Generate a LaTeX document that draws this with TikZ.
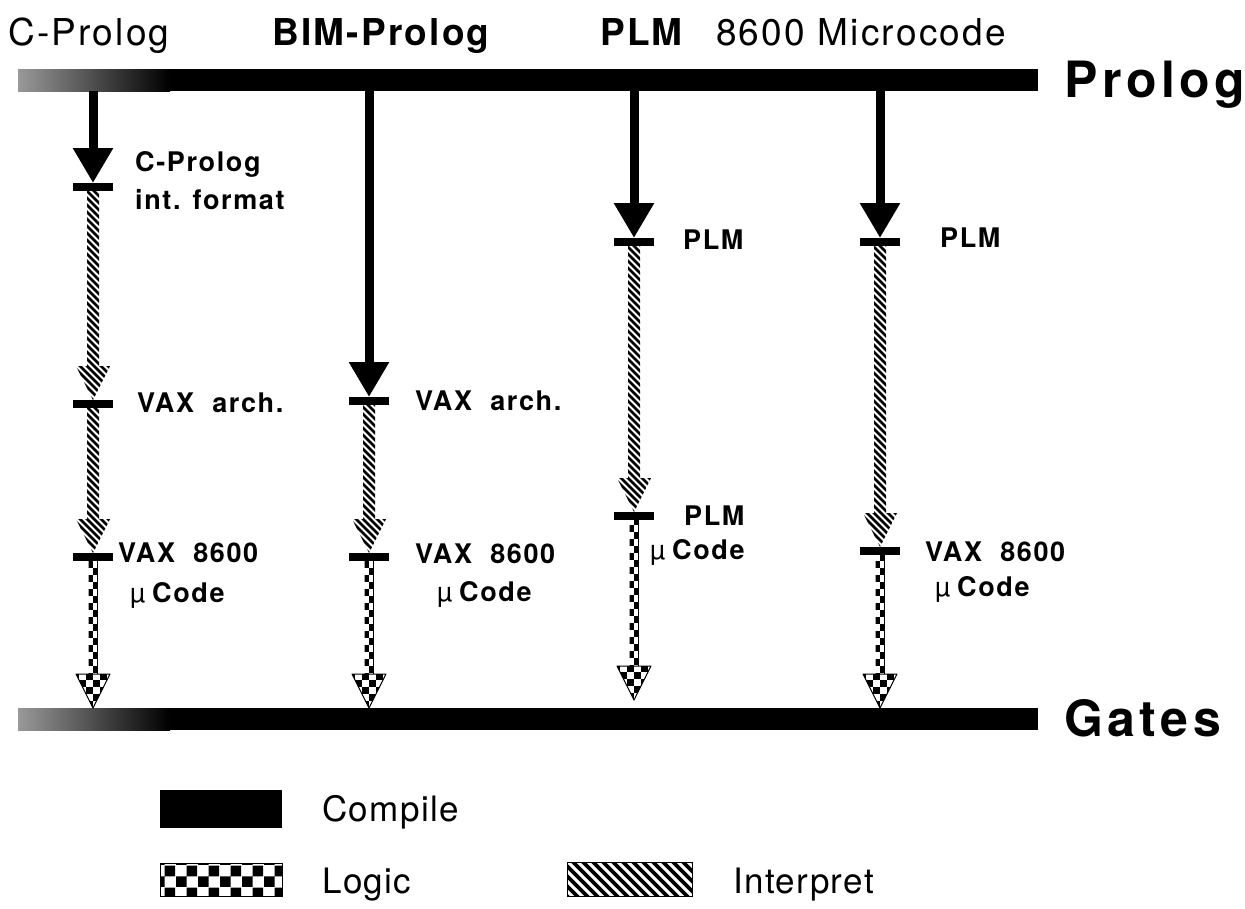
\documentclass[tikz,border=0pt]{standalone}
\usepackage{fontspec}
\setmainfont{TeX Gyre Heros}
\newfontfamily\lbl[LetterSpace=6]{TeX Gyre Heros}
\newfontfamily\endfont[LetterSpace=9]{TeX Gyre Heros}
\newfontfamily\lgd[LetterSpace=4]{TeX Gyre Heros}
\usetikzlibrary{arrows.meta,patterns,calc}

\pgfdeclarepatternformonly{bigcheck}{\pgfpointorigin}{\pgfqpoint{22pt}{22pt}}{\pgfqpoint{22pt}{22pt}}{%
  \pgfpathrectangle{\pgfpointorigin}{\pgfqpoint{11pt}{11pt}}%
  \pgfpathrectangle{\pgfqpoint{11pt}{11pt}}{\pgfqpoint{11pt}{11pt}}%
  \pgfusepath{fill}}

\tikzset{
  barbox/.style={fill=black, minimum width=1020pt, minimum height=22pt, inner sep=0pt, outer sep=0pt},
  tickbox/.style={fill=black, minimum width=40pt, minimum height=8pt, inner sep=0pt, outer sep=0pt},
  compileline/.style={line width=9pt, -{Triangle[width=38pt,length=35pt]}},
  hatchstroke/.style={line width=2.8pt},
  toplbl/.style={font=\lbl\fontsize{37}{40}\selectfont, anchor=base west, inner sep=0pt},
  topbold/.style={toplbl, font=\lbl\bfseries\fontsize{37}{40}\selectfont},
  endlbl/.style={font=\endfont\bfseries\fontsize{50}{54}\selectfont, anchor=base west, inner sep=0pt},
  midlbl/.style={font=\lbl\bfseries\fontsize{27}{30}\selectfont, anchor=base west, inner sep=0pt},
  lgdlbl/.style={font=\lgd\fontsize{35}{38}\selectfont, anchor=base west, inner sep=0pt},
}

% hatched (interpret) connector from tick #1 to tick #2
\newcommand\interparrow[2]{%
  \begin{scope}
    \clip ($(#1.south)+(-6,0)$) -- ($(#2.north)+(-6,-34)$) -- ($(#2.north)+(-17,-34)$)
      -- (#2.north) -- ($(#2.north)+(17,-34)$) -- ($(#2.north)+(6,-34)$) -- ($(#1.south)+(6,0)$) -- cycle;
    \foreach \k in {0,...,50} \draw[hatchstroke] ($(#2.north)+(-25,{-4-7*\k})$) -- ++(50,50);
  \end{scope}}
% checkered (logic) connector from tick #1 to tip coordinate #2
\newcommand\logicarrow[2]{%
  \begin{scope}
    \clip ($(#1.south)+(-4.5,0)$) -- ($(#2)+(-4.5,-34)$) -- ($(#2)+(-17,-34)$)
      -- (#2) -- ($(#2)+(17,-34)$) -- ($(#2)+(4.5,-34)$) -- ($(#1.south)+(4.5,0)$) -- cycle;
    \foreach \k in {0,2,...,24} \foreach \i in {-3,-1,1} \fill ($(#2)+({\i*7},{-7*\k})$) rectangle ++(7,-7);
    \foreach \k in {1,3,...,25} \foreach \i in {-2,0,2} \fill ($(#2)+({\i*7},{-7*\k})$) rectangle ++(7,-7);
  \end{scope}
  \draw[line width=0.8pt] ($(#1.south)+(4.5,0)$) -- ($(#2)+(4.5,-34)$);
  \draw[line width=1pt, line join=round] ($(#2)+(-17,-34)$) -- (#2) -- ($(#2)+(17,-34)$) -- cycle;}
\newcommand\mucode{{\normalfont\fontsize{27}{30}\selectfont\textmu}\hspace{7pt}Code}

\begin{document}
\begin{tikzpicture}[x=1pt,y=-1pt]
\useasboundingbox (0,0) rectangle (1245,908);

% bars
\node[barbox] (topbar) at (528,80) {};
\node[barbox] (botbar) at (528,719) {};
\shade[left color=black!40, right color=black] (18,69) rectangle (170,91);
\shade[left color=black!40, right color=black] (18,708) rectangle (170,730);
\node[endlbl] (prolog) at (1064,97) {Prolog};
\node[endlbl] (gates) at (1064,736) {Gates};

% top labels
\node[toplbl] (lc) at (8,45) {C-Prolog};
\node[topbold] (lb) at (272,45) {BIM-Prolog};
\node[topbold] (lp) at (600,45) {PLM};
\node[toplbl] (lm) at (716,45) {8600 Microcode};

% ticks
\node[tickbox] (a1) at (93,187) {};
\node[tickbox] (a2) at (93,404) {};
\node[tickbox] (a3) at (93,557) {};
\node[tickbox] (b1) at (369,401) {};
\node[tickbox] (b2) at (369,557) {};
\node[tickbox] (c1) at (634,242) {};
\node[tickbox] (c2) at (634,516) {};
\node[tickbox] (d1) at (880,242) {};
\node[tickbox] (d2) at (880,551) {};

% tips on the Gates bar
\coordinate (ae) at ($(a3.south |- botbar.north)$);
\coordinate (be) at ($(b2.south |- botbar.north)$);
\coordinate (ce) at ($(c2.south |- botbar.north)+(0,-8)$);
\coordinate (de) at ($(d2.south |- botbar.north)$);

% compile arrows
\draw[compileline] (a1.north |- topbar.south) -- (a1.north);
\draw[compileline] (b1.north |- topbar.south) -- (b1.north);
\draw[compileline] (c1.north |- topbar.south) -- (c1.north);
\draw[compileline] (d1.north |- topbar.south) -- (d1.north);

% interpret arrows
\interparrow{a1}{a2}
\interparrow{a2}{a3}
\interparrow{b1}{b2}
\interparrow{c1}{c2}
\interparrow{d1}{d2}

% logic arrows
\logicarrow{a3}{ae}
\logicarrow{b2}{be}
\logicarrow{c2}{ce}
\logicarrow{d2}{de}

% labels
\node[midlbl] (ta1) at (135,171) {C-Prolog};
\node[midlbl] (ta1b) at (135,209) {int. format};
\node[midlbl] (ta2) at (137,412) {VAX\ \ arch.};
\node[midlbl] (ta3) at (118,562) {VAX\ \ 8600};
\node[midlbl] (ta3b) at (130,602) {\mucode};
\node[midlbl] (tb1) at (415,410) {VAX\ \ arch.};
\node[midlbl] (tb2) at (415,563) {VAX\ \ 8600};
\node[midlbl] (tb2b) at (437,601) {\mucode};
\node[midlbl] (tc1) at (683,249) {PLM};
\node[midlbl] (tc2) at (684,525) {PLM};
\node[midlbl] (tc2b) at (650,559) {\mucode};
\node[midlbl] (td1) at (940,247) {PLM};
\node[midlbl] (td2) at (925,561) {VAX\ \ 8600};
\node[midlbl] (td2b) at (935,596) {\mucode};

% legend
\fill (160,790) rectangle (282,828);
\filldraw[pattern=bigcheck, draw=black, line width=1pt] (160,863) rectangle (282,896);
\begin{scope}
  \clip (567,862) rectangle (692,896);
  \foreach \k in {-4,...,13} \draw[line width=3.8pt] ({567+10*\k},856) -- ++(46,46);
\end{scope}
\draw[line width=1pt] (567,862) rectangle (692,896);
\node[lgdlbl] (k1) at (322,821) {Compile};
\node[lgdlbl] (k2) at (322,893) {Logic};
\node[lgdlbl] (k3) at (733,893) {Interpret};
\end{tikzpicture}
\end{document}
